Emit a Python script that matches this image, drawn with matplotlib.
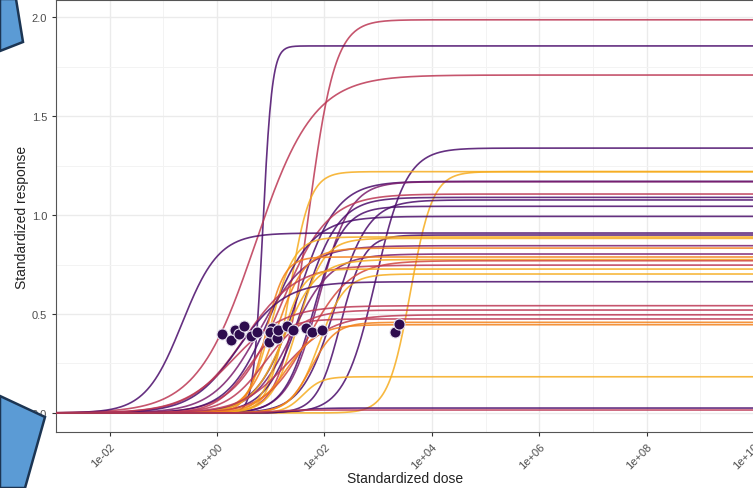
import numpy as np
import matplotlib
matplotlib.use("Agg")
import matplotlib.pyplot as plt
from matplotlib.patches import Polygon

plt.rcParams['font.family'] = ['Liberation Sans', 'DejaVu Sans']

PURPLE = '#4a0c6b'
MAGENTA = '#7a1d6d'
PINK = '#bc3754'
RED = '#d2473d'
ORANGE = '#f3801a'
YELLOW = '#f6ac1e'

# fitted dose-response curves: plateau, log10 EC50, hill slope, colour
tops = [1.986, 1.854, 1.707, 1.338, 1.219, 1.219, 1.170, 1.168, 1.106, 1.089,
        1.076, 1.044, 0.993, 0.909, 0.899, 0.889, 0.882, 0.845, 0.833, 0.803,
        0.788, 0.775, 0.769, 0.747, 0.727, 0.702, 0.663, 0.542, 0.520, 0.496,
        0.475, 0.458, 0.446, 0.183, 0.025, 0.015]
log_ec50 = [1.70, 0.85, 0.71, 2.95, 3.60, 1.35, 1.50, 1.90, 1.20, 1.60,
            2.20, 1.80, 1.00, -0.65, 2.30, 1.00, 1.50, 0.80, 1.10, 1.40,
            0.90, 1.25, 1.70, 0.50, 1.20, 1.90, 0.40, 0.30, 0.90, 1.30,
            0.60, 1.75, 1.30, 1.60, 1.50, 1.00]
slopes = [1.75, 5.0, 0.8, 1.5, 2.1, 2.3, 1.2, 1.5, 1.0, 1.3,
          1.4, 1.6, 1.1, 1.27, 2.0, 2.0, 1.8, 1.0, 1.6, 1.2,
          2.5, 1.4, 1.1, 0.9, 2.2, 1.8, 1.0, 0.9, 1.2, 1.0,
          1.4, 1.9, 1.5, 2.5, 2.0, 2.0]
colors = [PINK, PURPLE, PINK, PURPLE, YELLOW, YELLOW, PURPLE, MAGENTA, PINK, PURPLE,
          PURPLE, PURPLE, PURPLE, PURPLE, PURPLE, YELLOW, YELLOW, MAGENTA, ORANGE, MAGENTA,
          ORANGE, YELLOW, RED, PINK, YELLOW, YELLOW, PURPLE, PINK, PINK, PINK,
          PINK, ORANGE, ORANGE, YELLOW, PURPLE, PINK]

# observed points (log10 dose, standardized response)
pt_logdose = [0.09, 0.25, 0.33, 0.41, 0.51, 0.63, 0.74, 0.97, 1.02, 0.99,
              1.11, 1.13, 1.31, 1.41, 1.66, 1.76, 1.95, 3.31, 3.39]
pt_resp = [0.40, 0.37, 0.42, 0.40, 0.44, 0.39, 0.41, 0.36, 0.43, 0.41,
           0.38, 0.42, 0.44, 0.42, 0.43, 0.41, 0.42, 0.41, 0.45]

x_ticks = [1e-2, 1e0, 1e2, 1e4, 1e6, 1e8, 1e10]
x_labels = ['1e-02', '1e+00', '1e+02', '1e+04', '1e+06', '1e+08', '1e+10']
y_ticks = [0.0, 0.5, 1.0, 1.5, 2.0]

W, H = 753, 489
fig = plt.figure(figsize=(W / 100, H / 100), dpi=100)
ax = fig.add_axes([56 / W, (H - 433) / H, 698 / W, 432 / H])

lx = np.linspace(-3, 10.2, 800)
dose = 10 ** lx
for top, c, n, col in zip(tops, log_ec50, slopes, colors):
    resp = top / (1 + 10 ** (n * (c - lx)))
    ax.plot(dose, resp, color=col, lw=1.2, alpha=0.85, zorder=3)

ax.scatter(10 ** np.array(pt_logdose), pt_resp, s=64, color='#2d0b4e',
           edgecolor='#e8e3f0', linewidth=0.8, zorder=5)

ax.set_xscale('log')
ax.set_xlim(1e-3, 1e10)
ax.set_ylim(-0.096, 2.086)
ax.set_xticks(x_ticks)
ax.set_xticklabels(x_labels)
ax.set_xticks([10.0 ** k for k in range(-3, 11, 2)], minor=True)
ax.set_xticklabels([], minor=True)
ax.set_yticks(y_ticks)
ax.set_yticklabels(['%.1f' % v for v in y_ticks])
ax.set_yticks([0.25, 0.75, 1.25, 1.75], minor=True)

ax.grid(True, which='major', color='#ebebeb', lw=1.0, zorder=0)
ax.grid(True, which='minor', color='#f3f3f3', lw=0.7, zorder=0)
ax.set_axisbelow(True)
ax.tick_params(axis='both', which='major', length=3, width=0.8, color='#333333',
               labelsize=8, labelcolor='#4d4d4d')
ax.tick_params(axis='both', which='minor', length=0)
for lab in ax.get_xticklabels():
    lab.set_rotation(45)
    lab.set_ha('right')
    lab.set_va('top')
    lab.set_rotation_mode('anchor')
for sp in ax.spines.values():
    sp.set_color('#555555')
    sp.set_linewidth(0.8)

ax.set_xlabel('Standardized dose', fontsize=10, color='#222222')
ax.xaxis.set_label_coords(0.5, (433 - 472) / 432)
ax.set_ylabel('Standardized response', fontsize=10, color='#222222', labelpad=2)

# slide callout shapes overlapping the chart
shapes = [
    [(0, 0), (16, 0), (23, 43), (0, 52)],
    [(0, 397), (45, 418), (25, 489), (0, 489)],
]
for verts in shapes:
    pts = [(vx / W, 1 - vy / H) for vx, vy in verts]
    fig.patches.append(Polygon(pts, closed=True, transform=fig.transFigure,
                               facecolor='#5b9bd5', edgecolor='#1c3553',
                               lw=1.8, zorder=10))

fig.savefig('out.png', dpi=100)
